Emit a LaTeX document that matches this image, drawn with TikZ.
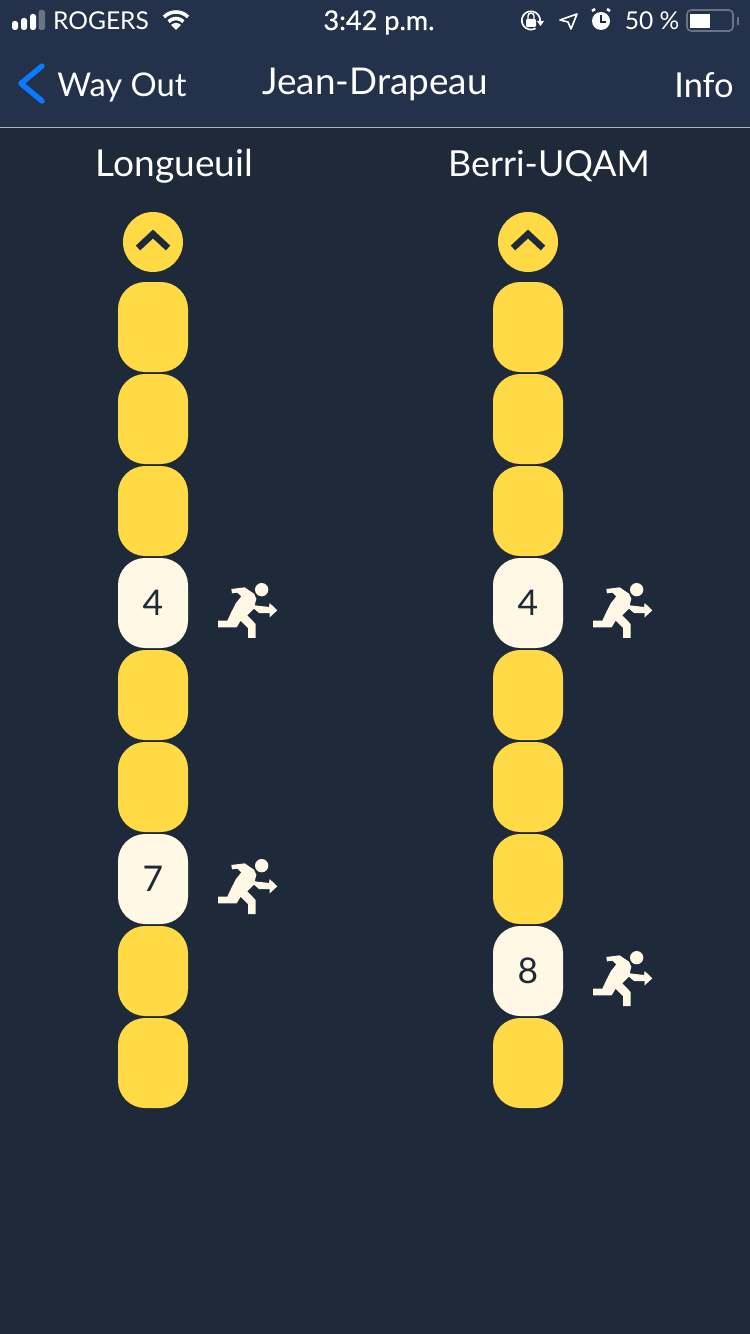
\documentclass[tikz,border=0pt]{standalone}
\usepackage{fontspec}
\setmainfont{Lato}
\definecolor{bodybg}{RGB}{30,41,58}
\definecolor{barbg}{RGB}{36,49,74}
\definecolor{caryellow}{RGB}{255,218,68}
\definecolor{carcream}{RGB}{255,248,228}
\definecolor{backblue}{RGB}{10,122,255}
\definecolor{statusgrey}{RGB}{107,116,133}
\newcommand{\navsize}[1]{\fontsize{#1}{18}\selectfont}
\tikzset{
  carbox/.style={fill=caryellow,minimum width=70*0.48pt,minimum height=90*0.48pt,rounded corners=13pt,inner sep=0pt,text=bodybg,font=\fontsize{17}{18}\selectfont},
  exitbox/.style={carbox,fill=carcream},
  upbtn/.style={circle,fill=caryellow,minimum size=60*0.48pt,inner sep=0pt},
  navtxt/.style={text=white,inner sep=0pt,anchor=base},
  statustxt/.style={text=white,inner sep=0pt,anchor=base,font=\fontsize{11.8}{13}\selectfont},
  runner/.pic={
    \begin{scope}[scale=0.3333]
    \fill [carcream] (12,128) -- (40,128) -- (52,102) -- (66,75) -- (82,55) -- (70,44) -- (54,46) -- (52,33) -- (92,28) -- (120,47) -- (127,62) -- (122,82) -- (165,87) -- (167,75) -- (190,97) -- (167,118) -- (167,105) -- (135,105) -- (120,92) -- (100,112) -- (125,138) -- (125,180) -- (102,180) -- (102,150) -- (80,128) -- (68,148) -- (12,148) -- cycle;
    \fill [carcream] (143,35) circle (20);
    \end{scope}
  }
}
\begin{document}
\begin{tikzpicture}[x=0.48pt,y=0.48pt,yscale=-1,xscale=1]
\useasboundingbox (0,0) rectangle (750,1334);
\fill [bodybg] (0,0) rectangle (750,1334);
\fill [barbg] (0,0) rectangle (750,127);
\draw [color={rgb, 255:red, 176; green, 181; blue, 189 }, line width=0.5pt] (0,127.5) -- (750,127.5);
% Status bar
\foreach \x/\ytop in {12/21,21/18,30/14} {
  \fill [white, rounded corners=1.2pt] (\x,\ytop) rectangle (\x+6,30);
}
\fill [statusgrey, rounded corners=1.2pt] (38.5,10) rectangle (45,30);
\node (carrier) [statustxt] at (101,30) {ROGERS};
\draw [white, line width=1.7pt] (176,29) ++(-45:17) arc [start angle=-45, end angle=-135, radius=17];
\draw [white, line width=1.7pt] (176,29) ++(-45:10.5) arc [start angle=-45, end angle=-135, radius=10.5];
\fill [white] (176,30) -- (171,25) arc [start angle=-135, end angle=-45, radius=7] -- cycle;
\node (clock) [statustxt, font=\fontsize{13}{13}\selectfont] at (379,30) {\addfontfeatures{FakeBold=0.6}3:42 p.m.};
% Rotation lock
\draw [white, line width=0.8pt] (540,22) arc [start angle=10, end angle=-300, radius=9.2];
\fill [white] (537,21) -- (544,21) -- (540.5,26) -- cycle;
\fill [white, rounded corners=0.5pt] (526,19) rectangle (536,27);
\draw [white, line width=0.7pt] (528,19) -- (528,16) arc [start angle=180, end angle=360, radius=3] -- (534,19);
% Location arrow
\draw [white, line width=0.8pt, line join=round] (560,20) -- (577,14) -- (571,29) -- (568,22) -- cycle;
% Alarm
\fill [white] (601,21) circle (9);
\draw [bodybg, line width=0.7pt] (601,15) -- (601,22) -- (606,22);
\draw [white, line width=1.2pt] (592,11) -- (595,9);
\draw [white, line width=1.2pt] (610,11) -- (607,9);
\node (percent) [statustxt] at (652,30) {50 \%};
% Battery
\draw [statusgrey, line width=0.8pt, rounded corners=2pt] (687,10) rectangle (733,31);
\fill [white] (690,14) rectangle (710,28);
\fill [statusgrey] (737,17) rectangle (739,25);
% Nav bar
\draw [backblue, line width=2.6pt, line cap=round, line join=round] (42,66) -- (21,83.5) -- (42,101);
\node (wayout) [navtxt, font=\navsize{15.7}] at (122,97) {Way Out};
\node (station) [navtxt, font=\navsize{17.7}] at (375,95) {Jean-Drapeau};
\node (info) [navtxt, font=\navsize{16.5}] at (704,98) {Info};
% Directions
\node (longueuil) [navtxt, font=\navsize{17.8}] at (174.5,177) {Longueuil};
\node (berri) [navtxt, font=\navsize{17.2}] at (549,177) {Berri-UQAM};
\node (upl) [upbtn] at (153,242) {};
\node (upb) [upbtn] at (528,242) {};
\foreach \n in {upl,upb} {
  \draw [bodybg, line width=3.1pt] (\n) ++(-15,6) -- ++(15,-14) -- ++(15,14);
}
% Cars
\foreach \i in {1,2,3,5,6,8,9} {
  \node (l\i) [carbox] at (153,{235+92*\i}) {};
}
\foreach \i in {1,2,3,5,6,7,9} {
  \node (b\i) [carbox] at (528,{235+92*\i}) {};
}
\node (l4) [exitbox] at (153,603) {4};
\node (l7) [exitbox] at (153,879) {7};
\node (b4) [exitbox] at (528,603) {4};
\node (b8) [exitbox] at (528,971) {8};
% Exit icons
\foreach \n in {l4,l7,b4,b8} {
  \path (\n) ++(61,-25) pic [transform shape] {runner};
}
\end{tikzpicture}
\end{document}
